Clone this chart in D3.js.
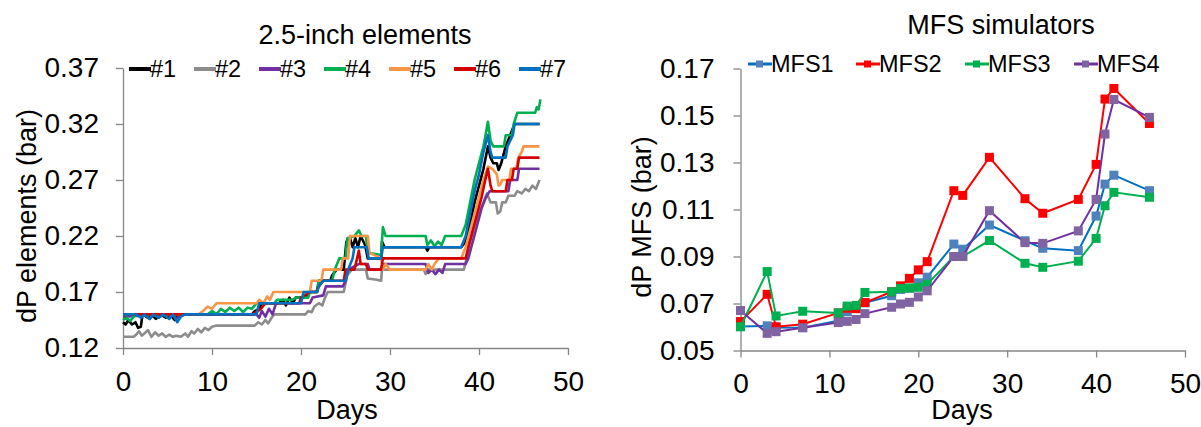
<!DOCTYPE html>
<html lang="en">
<head>
<meta charset="utf-8">
<title>dP elements and MFS simulators</title>
<script src="https://cdn.jsdelivr.net/npm/d3@7"></script>
<style>
	body { margin: 0; background: #fff; }
	text { font-family: "Liberation Sans", Arial, sans-serif; fill: #000; }
	.axis path, .axis line { stroke: #868686; stroke-width: 1.3; }
</style>
</head>
<body>
<script>
// ---- left panel: 2.5-inch elements, [day, dP bar] ----
var el1 = [[0,0.143],[0.3,0.141],[0.6,0.145],[1,0.141],[1.4,0.143],[1.7,0.138],[2,0.139],[2.2,0.15],[2.8,0.147],[3.2,0.15],[3.7,0.146],[4.2,0.15],[4.8,0.147],[5.3,0.15],[5.8,0.145],[6.2,0.15],[14.5,0.15],[14.8,0.153],[15.3,0.155],[15.6,0.16],[17.5,0.16],[18,0.163],[18.3,0.158],[18.7,0.165],[19.1,0.16],[19.4,0.165],[20.5,0.165],[21,0.17],[21.8,0.17],[22,0.18],[23.3,0.18],[23.5,0.185],[24,0.19],[24.8,0.19],[25.1,0.215],[25.5,0.218],[25.8,0.21],[26.1,0.218],[26.4,0.21],[26.7,0.22],[27.2,0.212],[27.5,0.2],[29,0.2],[29.1,0.215],[29.4,0.21],[34,0.21],[34.2,0.207],[34.4,0.21],[38,0.21],[38.5,0.215],[39,0.23],[39.5,0.25],[40,0.265],[40.5,0.28],[41,0.3],[41.3,0.29],[41.6,0.285],[42,0.285],[42.2,0.279],[42.5,0.285],[43,0.3],[43.5,0.31],[44,0.32],[46.8,0.32]];
var el2 = [[0,0.13],[1.2,0.13],[1.5,0.132],[1.8,0.135],[2.1,0.131],[2.4,0.133],[2.8,0.136],[3.2,0.13],[3.6,0.134],[4,0.131],[4.4,0.133],[4.8,0.13],[5.2,0.132],[5.6,0.13],[6,0.131],[6.5,0.13],[7,0.133],[7.3,0.13],[7.7,0.135],[8,0.133],[8.4,0.137],[8.8,0.134],[9.2,0.138],[9.6,0.136],[10,0.139],[10.5,0.14],[14.8,0.14],[15.2,0.143],[15.6,0.141],[16,0.145],[16.3,0.142],[16.7,0.147],[17,0.15],[20.5,0.15],[20.8,0.153],[21.2,0.152],[21.5,0.157],[22,0.16],[22.4,0.158],[22.7,0.165],[23,0.17],[24.8,0.17],[25.2,0.185],[25.7,0.19],[27.3,0.19],[27.5,0.182],[28.5,0.181],[29,0.18],[29.1,0.19],[33.8,0.19],[34,0.186],[34.3,0.19],[38.3,0.19],[38.6,0.2],[39,0.215],[39.5,0.23],[40,0.24],[40.5,0.25],[40.9,0.258],[41.3,0.25],[41.9,0.25],[42.1,0.24],[42.4,0.242],[42.6,0.25],[43,0.25],[43.3,0.256],[44,0.256],[44.3,0.26],[44.8,0.258],[45.2,0.262],[45.6,0.26],[46,0.265],[46.4,0.262],[46.8,0.27]];
var el3 = [[0,0.148],[2.5,0.149],[3,0.146],[3.5,0.15],[4,0.147],[4.5,0.15],[5.5,0.15],[6,0.146],[6.5,0.15],[15,0.15],[15.3,0.147],[15.6,0.153],[16,0.148],[16.4,0.155],[16.8,0.15],[17.2,0.16],[21,0.16],[21.3,0.165],[22.5,0.167],[22.8,0.175],[24.7,0.175],[25,0.18],[25.3,0.19],[26.5,0.195],[27.5,0.195],[27.7,0.19],[29,0.19],[29.2,0.195],[34,0.195],[34.3,0.187],[34.7,0.19],[35.1,0.186],[35.5,0.19],[35.9,0.187],[36.2,0.195],[38.5,0.195],[38.8,0.2],[39.3,0.215],[39.8,0.23],[40.3,0.245],[40.8,0.255],[41.2,0.26],[43.3,0.26],[43.5,0.27],[44.3,0.27],[44.5,0.28],[46.8,0.28]];
var el4 = [[0,0.145],[0.4,0.147],[0.8,0.144],[1.2,0.148],[1.6,0.15],[9.5,0.15],[10,0.153],[10.5,0.15],[11,0.155],[11.5,0.152],[12,0.156],[12.5,0.153],[13,0.156],[13.5,0.152],[14,0.156],[14.5,0.155],[15,0.16],[17,0.16],[17.3,0.163],[19,0.163],[19.5,0.165],[20.8,0.165],[21,0.17],[21.8,0.17],[22,0.18],[23.5,0.18],[23.8,0.19],[24.3,0.2],[25,0.2],[25.2,0.218],[26,0.22],[26.5,0.225],[26.8,0.22],[27.3,0.22],[27.5,0.205],[29,0.203],[29.2,0.228],[29.5,0.22],[34,0.22],[34.2,0.212],[34.6,0.216],[35,0.211],[35.4,0.215],[35.8,0.212],[36.2,0.22],[38,0.22],[38.5,0.23],[39,0.25],[39.5,0.27],[40,0.285],[40.5,0.3],[41,0.322],[41.3,0.305],[41.6,0.3],[42.8,0.3],[43,0.31],[43.7,0.31],[43.9,0.32],[44.3,0.33],[46.3,0.33],[46.5,0.335],[46.7,0.333],[46.9,0.342]];
var el5 = [[0,0.15],[8.5,0.15],[9,0.153],[9.5,0.157],[10,0.155],[10.5,0.16],[15,0.16],[15.3,0.163],[15.8,0.16],[16.2,0.166],[16.5,0.163],[16.9,0.17],[21,0.17],[21.2,0.18],[22.3,0.18],[22.5,0.19],[24.5,0.19],[24.7,0.2],[25.3,0.2],[25.5,0.22],[27.5,0.22],[27.7,0.205],[29,0.2],[29.2,0.19],[29.5,0.195],[30,0.19],[34,0.19],[34.3,0.195],[34.7,0.19],[35,0.195],[35.5,0.2],[38,0.2],[38.5,0.21],[39,0.225],[39.5,0.24],[40,0.255],[40.5,0.27],[41,0.282],[41.5,0.28],[42,0.275],[42.2,0.265],[42.4,0.266],[42.6,0.27],[43.4,0.27],[43.6,0.28],[44.2,0.28],[44.4,0.29],[44.8,0.295],[45,0.3],[46.8,0.3]];
var el6 = [[0,0.15],[14.5,0.15],[15,0.152],[15.5,0.155],[16,0.16],[19.8,0.16],[20,0.165],[21,0.17],[21.7,0.17],[22,0.175],[22.5,0.18],[24.8,0.18],[25,0.19],[26,0.19],[26.3,0.2],[26.5,0.207],[26.7,0.195],[27.3,0.195],[27.5,0.19],[29,0.19],[29.2,0.2],[38.5,0.2],[38.8,0.21],[39.3,0.225],[39.8,0.24],[40.3,0.255],[40.7,0.27],[41,0.28],[41.3,0.265],[41.5,0.26],[43,0.26],[43.2,0.27],[43.7,0.27],[43.9,0.28],[44.3,0.28],[44.5,0.29],[46.8,0.29]];
var el7 = [[0,0.15],[1.5,0.15],[2,0.147],[2.4,0.15],[3,0.146],[3.4,0.15],[4,0.147],[4.5,0.15],[5.2,0.146],[5.6,0.15],[6.1,0.143],[6.5,0.148],[7,0.15],[15,0.15],[15.3,0.16],[20,0.16],[20.3,0.17],[21.8,0.17],[22,0.175],[22.5,0.18],[25,0.18],[25.3,0.19],[25.8,0.2],[26,0.21],[27.4,0.21],[27.6,0.2],[29,0.2],[29.2,0.21],[38,0.21],[38.5,0.22],[39,0.24],[39.5,0.26],[40,0.275],[40.5,0.295],[41,0.31],[41.3,0.295],[41.5,0.29],[43,0.29],[43.2,0.3],[43.8,0.31],[44,0.32],[46.8,0.32]];
var elNames = ["#1", "#2", "#3", "#4", "#5", "#6", "#7"];
var elColors = ["#000000", "#8c8c8c", "#7030a0", "#00b050", "#f79646", "#d40000", "#0070c0"];
var elTicksY = [0.12, 0.17, 0.22, 0.27, 0.32, 0.37];

// ---- right panel: MFS simulators ----
var mfsDays = [0, 3, 4, 7, 11, 12, 13, 14, 17, 18, 19, 20, 21, 24, 25, 28, 32, 34, 38, 40, 41, 42, 46];
var mfs1 = [0.0602,0.0605,0.0598,0.0597,0.0627,0.0665,0.068,0.0703,0.0733,0.076,0.0765,0.0788,0.0812,0.0953,0.0931,0.1034,0.0967,0.0935,0.0925,0.1072,0.1208,0.1246,0.118];
var mfs2 = [0.0623,0.0739,0.0601,0.0612,0.066,0.068,0.0678,0.0704,0.075,0.0775,0.0807,0.0843,0.0878,0.118,0.116,0.1322,0.1146,0.1084,0.1143,0.1292,0.157,0.1615,0.1466];
var mfs3 = [0.0601,0.0836,0.0647,0.0667,0.066,0.0689,0.0692,0.0747,0.075,0.0764,0.0766,0.0769,0.0782,0.09,0.09,0.0968,0.0871,0.0854,0.088,0.0977,0.1116,0.1173,0.1152];
var mfs4 = [0.067,0.0573,0.058,0.0597,0.0619,0.0624,0.0632,0.0657,0.0684,0.0698,0.0705,0.0728,0.0754,0.09,0.09,0.1095,0.0959,0.0956,0.1009,0.1143,0.1421,0.1568,0.1492];
var mfsNames = ["MFS1", "MFS2", "MFS3", "MFS4"];
var mfsLine = ["#0070c0", "#ff0000", "#00b050", "#7030a0"];
var mfsMark = ["#4f81bd", "#ff0000", "#00b050", "#8064a2"];
var mfsTicksY = [0.05, 0.07, 0.09, 0.11, 0.13, 0.15, 0.17];
var dayTicks = [0, 10, 20, 30, 40, 50];

var w = 1201, h = 427;
var svg = d3.select("body").append("svg").attr("width", w).attr("height", h);

function axes(x, y, yTicks, padY) {
	svg.append("g").attr("class", "axis")
		.attr("transform", "translate(0," + y.range()[0] + ")")
		.call(d3.axisBottom(x).tickValues(dayTicks).tickSize(7).tickSizeOuter(0).tickPadding(16))
		.selectAll("text").style("font-size", "28px");
	svg.append("g").attr("class", "axis")
		.attr("transform", "translate(" + x.range()[0] + ",0)")
		.call(d3.axisLeft(y).tickValues(yTicks).tickFormat(d3.format(".2f")).tickSize(7).tickSizeOuter(0).tickPadding(padY))
		.selectAll("text").style("font-size", "28px");
	svg.selectAll(".axis text").attr("fill", "#000");
}

// left
var xL = d3.scaleLinear().domain([0, 50]).range([123, 568]);
var yL = d3.scaleLinear().domain([0.12, 0.37]).range([348, 68]);
axes(xL, yL, elTicksY, 17);

var lineL = d3.line().x(function(d) { return xL(d[0]); }).y(function(d) { return yL(d[1]); });
[el1, el2, el3, el4, el5, el6, el7].forEach(function(s, i) {
	svg.append("path").attr("d", lineL(s))
		.attr("fill", "none").attr("stroke", elColors[i])
		.attr("stroke-width", 2.6).attr("stroke-linejoin", "round");
});

svg.append("text").attr("x", 365).attr("y", 44).attr("text-anchor", "middle")
	.style("font-size", "27px").text("2.5-inch elements");
svg.append("text").attr("transform", "translate(36,216) rotate(-90)").attr("text-anchor", "middle")
	.style("font-size", "27px").text("dP elements (bar)");
svg.append("text").attr("x", 347).attr("y", 419).attr("text-anchor", "middle")
	.style("font-size", "27px").text("Days");

elNames.forEach(function(n, i) {
	var lx = 129 + i * 65;
	svg.append("line").attr("x1", lx).attr("x2", lx + 22).attr("y1", 69).attr("y2", 69)
		.attr("stroke", elColors[i]).attr("stroke-width", 4);
	svg.append("text").attr("x", lx + 21).attr("y", 69).attr("dy", "0.36em")
		.style("font-size", "23.5px").text(n);
});

// right
var xR = d3.scaleLinear().domain([0, 50]).range([740.5, 1185]);
var yR = d3.scaleLinear().domain([0.05, 0.17]).range([350.5, 68.5]);
axes(xR, yR, mfsTicksY, 19);

var lineR = d3.line().x(function(d) { return xR(d[0]); }).y(function(d) { return yR(d[1]); });
[mfs1, mfs2, mfs3, mfs4].forEach(function(s, i) {
	var pts = mfsDays.map(function(d, j) { return [d, s[j]]; });
	var g = svg.append("g");
	g.append("path").attr("d", lineR(pts))
		.attr("fill", "none").attr("stroke", mfsLine[i]).attr("stroke-width", 2);
	g.selectAll("rect").data(pts).enter().append("rect")
		.attr("x", function(d) { return xR(d[0]) - 4.5; })
		.attr("y", function(d) { return yR(d[1]) - 4.5; })
		.attr("width", 9).attr("height", 9)
		.attr("fill", mfsMark[i]);
});

svg.append("text").attr("x", 1001).attr("y", 34).attr("text-anchor", "middle")
	.style("font-size", "27px").text("MFS simulators");
svg.append("text").attr("transform", "translate(651,217) rotate(-90)").attr("text-anchor", "middle")
	.style("font-size", "27px").text("dP MFS (bar)");
svg.append("text").attr("x", 962).attr("y", 419).attr("text-anchor", "middle")
	.style("font-size", "27px").text("Days");

var legX = [748, 856, 965, 1074];
mfsNames.forEach(function(n, i) {
	var lx = legX[i];
	svg.append("line").attr("x1", lx).attr("x2", lx + 24).attr("y1", 64).attr("y2", 64)
		.attr("stroke", mfsLine[i]).attr("stroke-width", 3);
	svg.append("rect").attr("x", lx + 8).attr("y", 60.5).attr("width", 7).attr("height", 7)
		.attr("fill", mfsMark[i]);
	svg.append("text").attr("x", lx + 23).attr("y", 64).attr("dy", "0.36em")
		.style("font-size", "23.5px").text(n);
});
</script>
</body>
</html>
